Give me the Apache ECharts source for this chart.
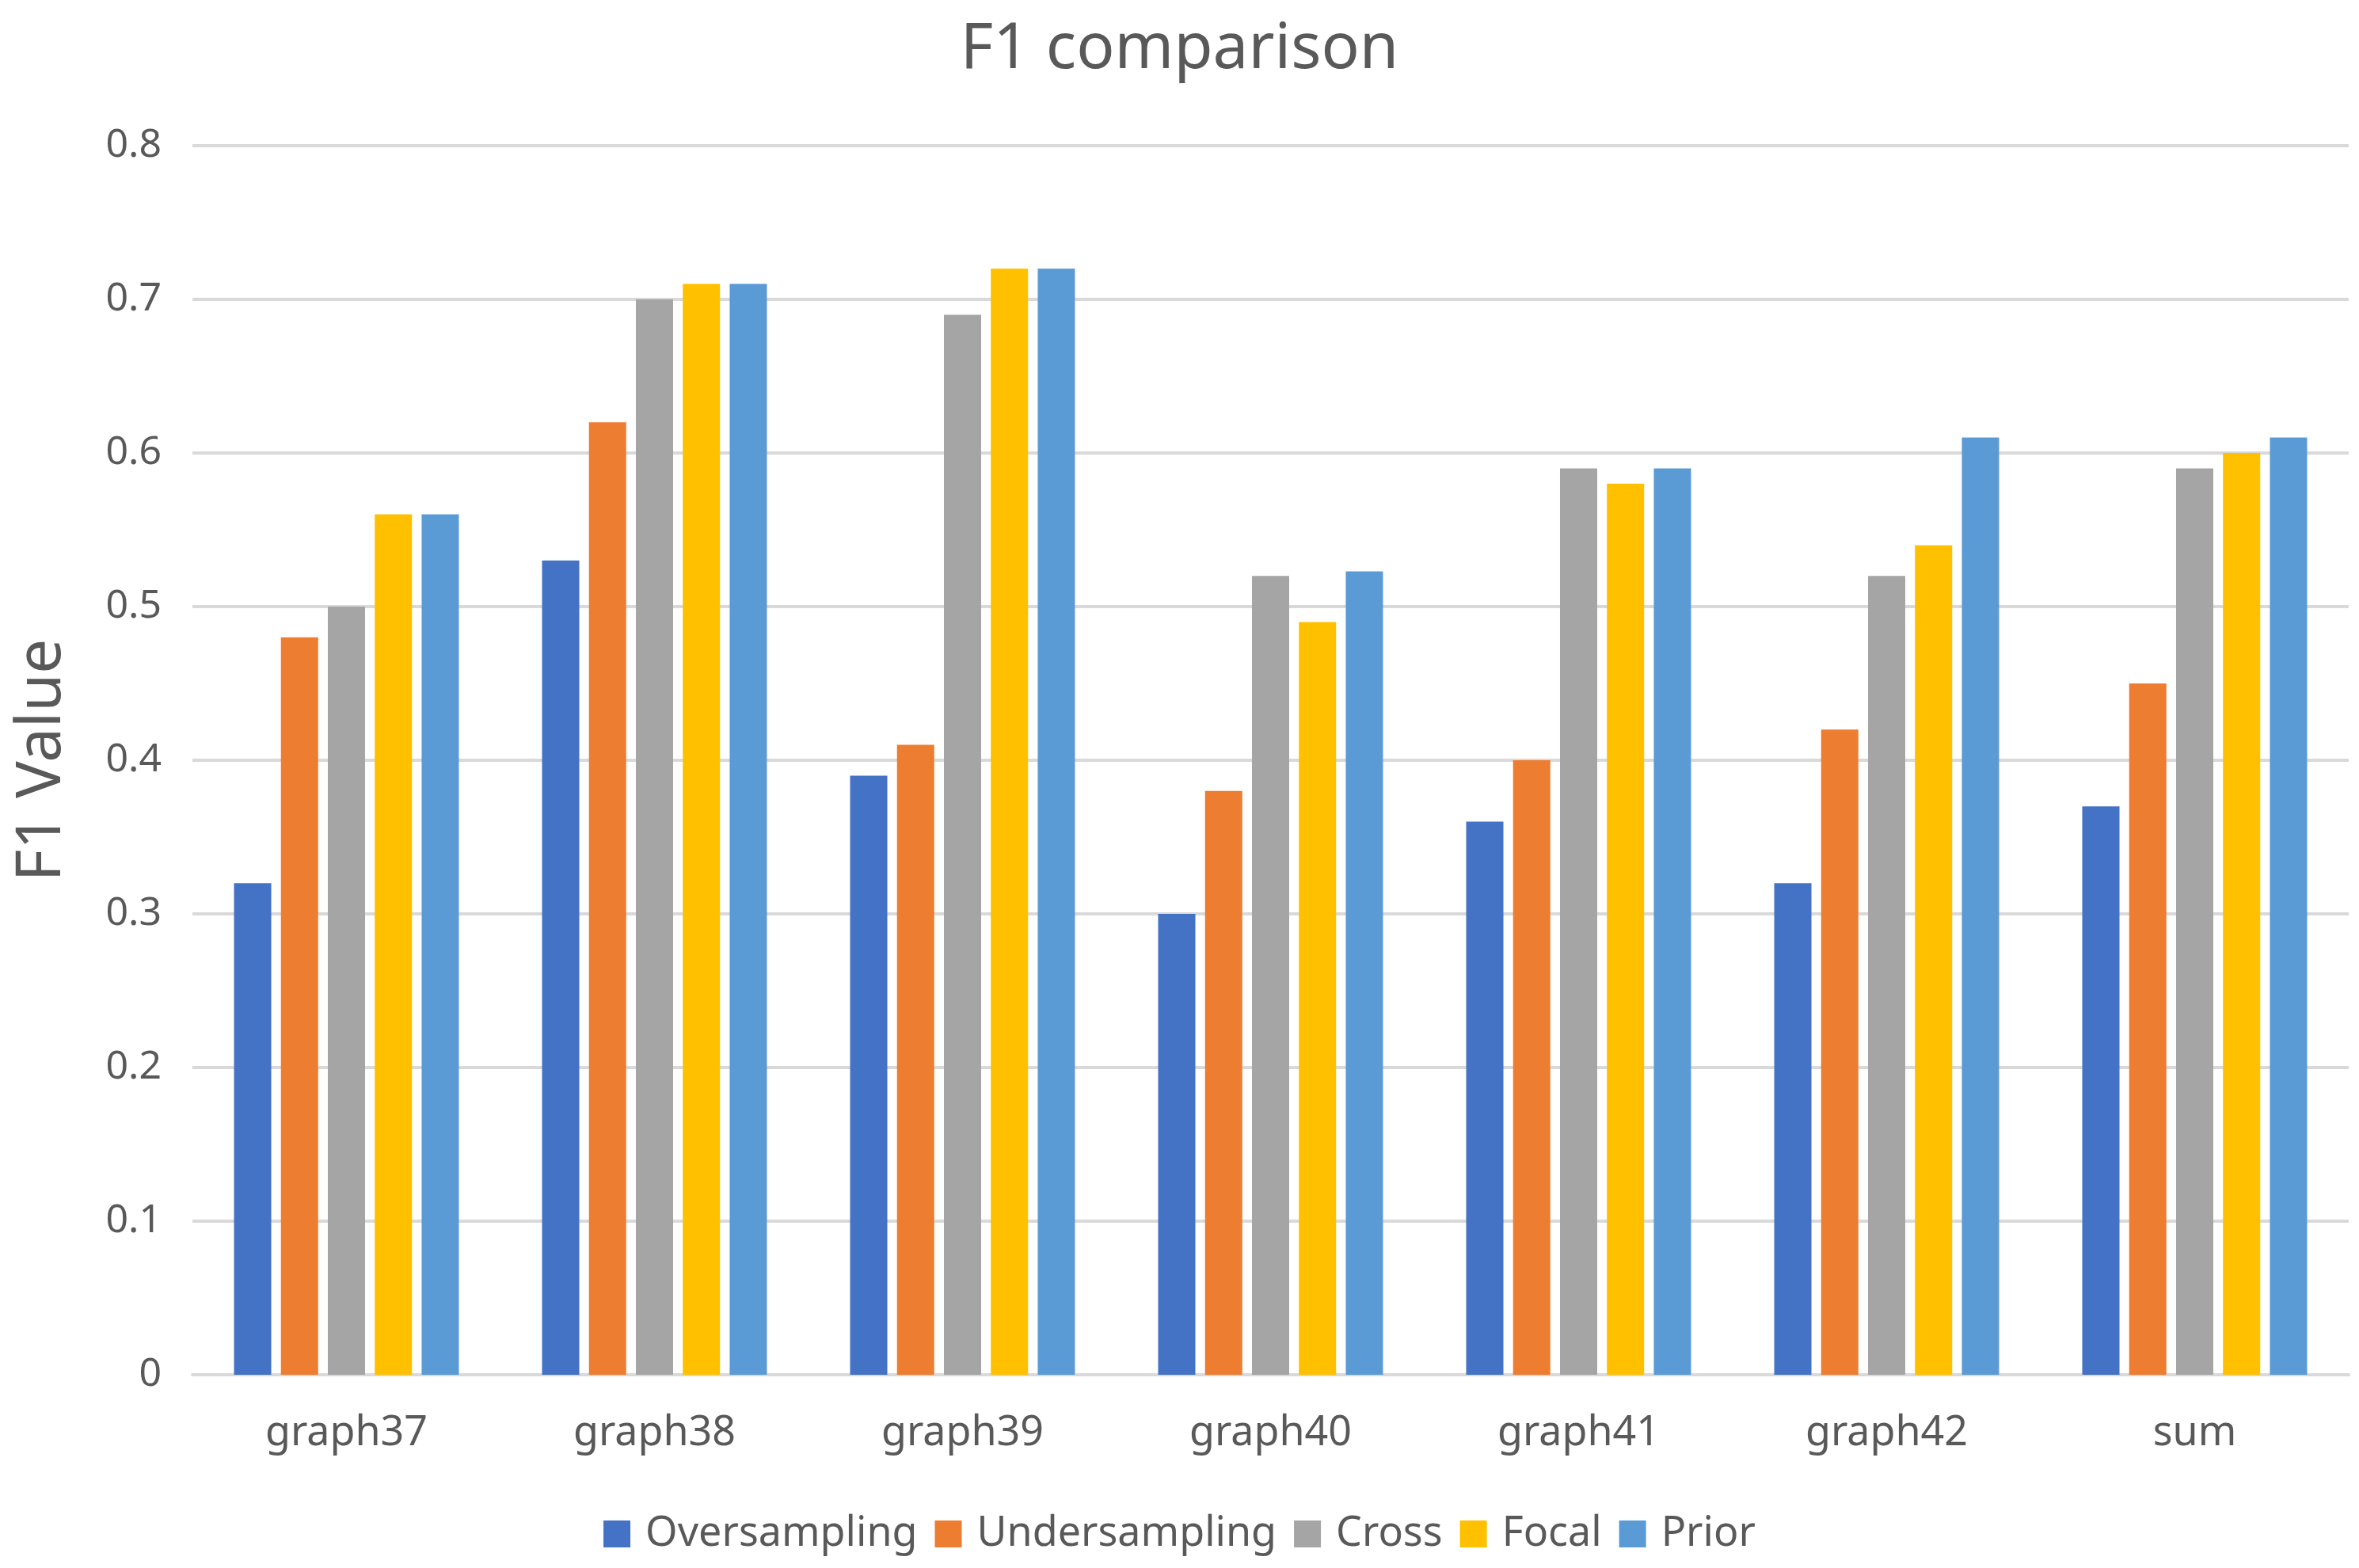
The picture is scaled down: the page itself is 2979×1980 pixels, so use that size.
<!DOCTYPE html>
<html>
<head>
<meta charset="utf-8">
<script src="https://cdn.jsdelivr.net/npm/echarts@6/dist/echarts.min.js"></script>
<style>
html,body{margin:0;padding:0;background:#fff;}
#chart{width:2979px;height:1980px;}
</style>
</head>
<body>
<div id="chart"></div>
<script>
const categories = ['graph37','graph38','graph39','graph40','graph41','graph42','sum'];
const seriesNames = ['Oversampling','Undersampling','Cross','Focal','Prior'];
const oversampling = [0.32, 0.53, 0.39, 0.30, 0.36, 0.32, 0.37];
const undersampling = [0.48, 0.62, 0.41, 0.38, 0.40, 0.42, 0.45];
const cross = [0.50, 0.70, 0.69, 0.52, 0.59, 0.52, 0.59];
const focal = [0.56, 0.71, 0.72, 0.49, 0.58, 0.54, 0.60];
const prior = [0.56, 0.71, 0.72, 0.523, 0.59, 0.61, 0.61];
const yTicks = [0, 0.1, 0.2, 0.3, 0.4, 0.5, 0.6, 0.7, 0.8];
const colors = ['#4472C4','#ED7D31','#A5A5A5','#FFC000','#5B9BD5'];
const values = [oversampling, undersampling, cross, focal, prior];

const font = 'Noto Sans';
const txt = '#595959';
const chart = echarts.init(document.getElementById('chart'));
chart.setOption({
  animation: false,
  backgroundColor: '#ffffff',
  title: {
    text: 'F1 comparison',
    left: 'center',
    top: 18,
    textStyle: {fontFamily: font, fontSize: 80, fontWeight: 'normal', color: txt}
  },
  legend: {
    data: seriesNames,
    bottom: 12,
    left: 'center',
    itemWidth: 34,
    itemHeight: 34,
    itemGap: 22,
    icon: 'rect',
    textStyle: {fontFamily: font, fontSize: 52, color: txt, padding: [0,0,0,14]}
  },
  grid: {left: 243, right: 13, top: 184, bottom: 244, containLabel: false},
  xAxis: {
    type: 'category',
    data: categories,
    axisLine: {lineStyle: {color: '#D9D9D9', width: 4}},
    axisTick: {show: false},
    axisLabel: {fontFamily: font, fontSize: 52, color: txt, margin: 48}
  },
  yAxis: {
    type: 'value',
    min: yTicks[0],
    max: yTicks[yTicks.length-1],
    interval: 0.1,
    name: 'F1 Value',
    nameLocation: 'middle',
    nameGap: 150,
    nameTextStyle: {fontFamily: font, fontSize: 78, color: txt},
    axisLine: {show: false},
    axisTick: {show: false},
    splitLine: {lineStyle: {color: '#D9D9D9', width: 4}},
    axisLabel: {fontFamily: font, fontSize: 50, color: txt, margin: 39,
      formatter: v => (Math.round(v*10)/10).toString()}
  },
  series: seriesNames.map((n, i) => ({
    name: n,
    type: 'bar',
    data: values[i],
    barCategoryGap: '27%',
    barGap: '26%',
    itemStyle: {color: colors[i]}
  }))
});
</script>
</body>
</html>
